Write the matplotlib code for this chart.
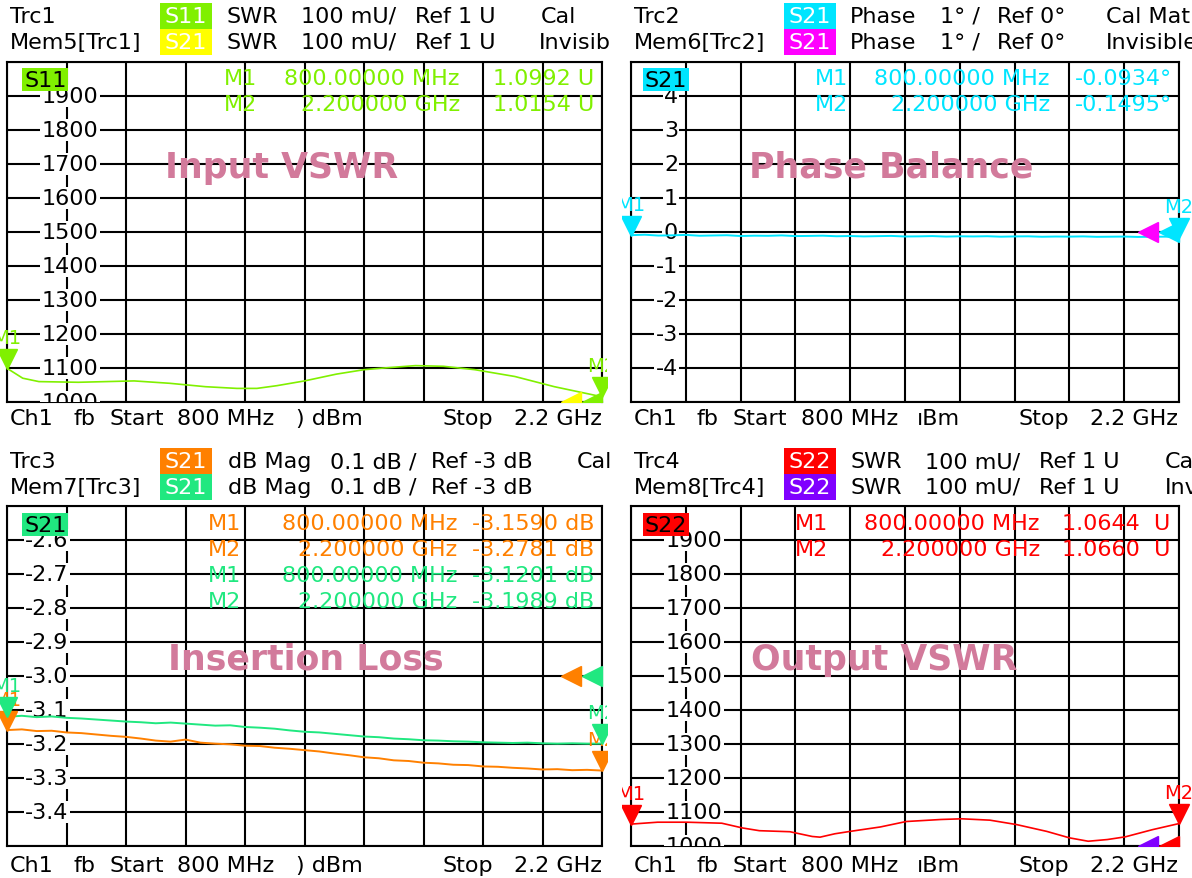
import matplotlib
matplotlib.use("Agg")
import numpy as np
import matplotlib.pyplot as plt
from matplotlib.patches import Rectangle
from matplotlib.transforms import ScaledTranslation, blended_transform_factory

W, H = 1192, 879
FS = 16
plt.rcParams["font.family"] = ["DejaVu Sans"]

START, STOP = 800, 2200  # MHz

# sweep points for the noisy traces
SWEEP_MHZ = list(range(800, 2201, 35))

# Trc1: S11 SWR (U)
S11_MHZ = [800, 837, 875, 968, 1099, 1183, 1267, 1341, 1388, 1435, 1500, 1575,
           1640, 1687, 1761, 1827, 1901, 1995, 2088, 2200]
S11_SWR = [1.0992, 1.070, 1.060, 1.058, 1.062, 1.055, 1.045, 1.040, 1.040, 1.048,
           1.062, 1.082, 1.095, 1.100, 1.107, 1.105, 1.095, 1.075, 1.045, 1.0154]

# Trc2: S21 phase (deg)
S21_PHASE = [-0.0934, -0.080, -0.105, -0.098, -0.085, -0.110, -0.102, -0.095, -0.118,
             -0.108, -0.112, -0.100, -0.120, -0.115, -0.108, -0.125, -0.118, -0.130,
             -0.122, -0.115, -0.132, -0.128, -0.120, -0.135, -0.126, -0.131, -0.124,
             -0.138, -0.130, -0.127, -0.140, -0.133, -0.136, -0.129, -0.142, -0.138,
             -0.134, -0.145, -0.140, -0.137, -0.1495]

# Trc3: S21 dB mag, and memory trace Mem7
S21_DB = [-3.159, -3.157, -3.162, -3.161, -3.166, -3.168, -3.172, -3.176, -3.179,
          -3.184, -3.190, -3.193, -3.187, -3.196, -3.199, -3.201, -3.205, -3.206,
          -3.211, -3.214, -3.218, -3.222, -3.228, -3.233, -3.239, -3.242, -3.248,
          -3.250, -3.255, -3.257, -3.261, -3.262, -3.266, -3.267, -3.270, -3.272,
          -3.275, -3.274, -3.277, -3.276, -3.2781]
MEM_DB = [-3.1201, -3.117, -3.121, -3.119, -3.123, -3.125, -3.128, -3.131, -3.134,
          -3.136, -3.139, -3.137, -3.140, -3.143, -3.146, -3.145, -3.150, -3.152,
          -3.155, -3.160, -3.164, -3.166, -3.170, -3.174, -3.178, -3.180, -3.184,
          -3.186, -3.189, -3.190, -3.192, -3.193, -3.195, -3.196, -3.197, -3.196,
          -3.198, -3.199, -3.198, -3.199, -3.1989]

# Trc4: S22 SWR (U)
S22_MHZ = [800, 868, 943, 1032, 1085, 1128, 1206, 1263, 1283, 1321, 1360, 1437, 1503,
           1592, 1645, 1717, 1785, 1862, 1920, 1968, 2017, 2063, 2132, 2200]
S22_SWR = [1.0644, 1.070, 1.070, 1.067, 1.053, 1.045, 1.042, 1.028, 1.026, 1.036,
           1.043, 1.056, 1.072, 1.078, 1.080, 1.076, 1.063, 1.043, 1.024, 1.014,
           1.019, 1.027, 1.048, 1.0660]

C_S11, C_MEM5 = "#80f000", "#ffff00"
C_PH, C_MEM6 = "#00e5ff", "#ff00ff"
C_S21, C_MEM7 = "#ff8000", "#20e880"
C_S22, C_MEM8 = "#ff0000", "#8000ff"
C_TITLE = "#d27a9b"

fig = plt.figure(figsize=(W / 100, H / 100), dpi=100)


def ftext(x, y, s, **kw):
    kw.setdefault("fontsize", FS)
    kw.setdefault("va", "center")
    return fig.text(x / W, 1 - y / H, s, **kw)


def fbox(x0, y0, x1, y1, color, zorder=1):
    fig.add_artist(Rectangle((x0 / W, 1 - y1 / H), (x1 - x0) / W, (y1 - y0) / H,
                             transform=fig.transFigure, facecolor=color,
                             edgecolor="none", zorder=zorder))


def panel(box, ylo, yhi, labels, label_x, ha):
    x0, y0, x1, y1 = box
    ax = fig.add_axes([x0 / W, 1 - y1 / H, (x1 - x0) / W, (y1 - y0) / H])
    ax.set_xlim(START, STOP)
    ax.set_ylim(ylo, yhi)
    ax.set_xticks(np.linspace(START, STOP, 11))
    ax.set_yticks(np.linspace(ylo, yhi, 11))
    ax.tick_params(length=0, labelbottom=False, labelleft=False)
    ax.grid(True, color="black", lw=1.5)
    for sp in ax.spines.values():
        sp.set_linewidth(1.5)
    tr = blended_transform_factory(ax.transAxes, ax.transData)
    for v, s in labels:
        t = ax.text(label_x, v, s, transform=tr, ha=ha, va="center", fontsize=FS,
                    zorder=3, bbox=dict(facecolor="white", edgecolor="none", pad=1.0))
        t.set_clip_on(True)
    return ax


def clip_rect(box, left, right):
    x0, y0, x1, y1 = box
    return Rectangle(((x0 - left) / W, 1 - y1 / H), (x1 - x0 + left + right) / W,
                     (y1 - y0) / H, transform=fig.transFigure)


def shift(ax, dx, dy):
    return ax.transData + ScaledTranslation(dx / 100, dy / 100, fig.dpi_scale_trans)


def marker(ax, f, v, name, color, clip, label_dy=31):
    ln, = ax.plot([f], [v], marker="v", ms=14, color=color, lw=0,
                  transform=shift(ax, 0, 9.5), zorder=5)
    ln.set_clip_path(clip)
    t = ax.text(f, v, name, color=color, fontsize=14, ha="center", va="center",
                transform=shift(ax, 0, label_dy), zorder=5)
    t.set_clip_path(clip)
    t.set_clip_on(True)


def ref_arrow(ax, v, color, dx, clip):
    ln, = ax.plot([STOP], [v], marker="<", ms=15, color=color, lw=0,
                  transform=shift(ax, dx, 0), zorder=4)
    ln.set_clip_path(clip)


def tag(x0, y0, s, color):
    fbox(x0, y0, x0 + 46, y0 + 23, color, zorder=6)
    ftext(x0 + 2, y0 + 12, s, color="black", zorder=7)


def header(x, y, rows):
    # rows: (trace name, parameter, colour, text chunks)
    for i, (name, param, color, chunks) in enumerate(rows):
        yy = y + 26 * i
        ftext(x, yy, name)
        fbox(x + 150, yy - 13, x + 202, yy + 13, color)
        ftext(x + 154, yy, param, color="white")
        for dx, s in chunks:
            ftext(x + dx, yy, s)


def footer(x, y, right, dbm):
    ftext(x, y, "Ch1")
    ftext(x + 63, y, "fb")
    ftext(x + 99, y, "Start")
    ftext(x + 167, y, "800 MHz")
    ftext(x + dbm[0], y, dbm[1])
    ftext(right - 160, y, "Stop")
    ftext(right, y, "2.2 GHz", ha="right")


P1 = (7, 63, 602, 403)
P2 = (631, 63, 1179, 403)
P3 = (7, 507, 602, 847)
P4 = (631, 507, 1179, 847)

swr_labels = [(1.0 + 0.1 * k, f"{1000 + 100 * k}") for k in range(10)]

# ---- Trc1: input VSWR
ax1 = panel(P1, 1.0, 2.0, swr_labels, 63 / 595, "center")
ax1.plot(S11_MHZ, S11_SWR, color=C_S11, lw=1.2, zorder=4)
clip1 = clip_rect(P1, 10, 5)
ref_arrow(ax1, 1.0, C_MEM5, -31, clip1)
ref_arrow(ax1, 1.0, C_S11, -10, clip1)
marker(ax1, START, S11_SWR[0], "M1", C_S11, clip1)
marker(ax1, STOP, S11_SWR[-1], "M2", C_S11, clip1)

# ---- Trc2: phase balance
ph_labels = [(float(v), f"{v}") for v in range(4, -5, -1)]
ax2 = panel(P2, -5, 5, ph_labels, 47 / 548, "right")
ax2.plot(SWEEP_MHZ, S21_PHASE, color=C_PH, lw=1.4, zorder=4)
clip2 = clip_rect(P2, 9, 13)
ref_arrow(ax2, 0, C_MEM6, -31, clip2)
ref_arrow(ax2, 0, C_PH, -10, clip2)
marker(ax2, START, S21_PHASE[0], "M1", C_PH, clip2)
marker(ax2, STOP, S21_PHASE[-1], "M2", C_PH, clip2)

# ---- Trc3: insertion loss
db_labels = [(-2.6 - 0.1 * k, f"{-2.6 - 0.1 * k:.1f}") for k in range(9)]
ax3 = panel(P3, -3.5, -2.5, db_labels, 40 / 595, "center")
ax3.plot(SWEEP_MHZ, MEM_DB, color=C_MEM7, lw=1.4, zorder=4)
ax3.plot(SWEEP_MHZ, S21_DB, color=C_S21, lw=1.4, zorder=4)
clip3 = clip_rect(P3, 10, 5)
ref_arrow(ax3, -3.0, C_S21, -31, clip3)
ref_arrow(ax3, -3.0, C_MEM7, -10, clip3)
marker(ax3, START, S21_DB[0], "M1", C_S21, clip3)
marker(ax3, START, MEM_DB[0], "M1", C_MEM7, clip3)
marker(ax3, STOP, S21_DB[-1], "M2", C_S21, clip3)
marker(ax3, STOP, MEM_DB[-1], "M2", C_MEM7, clip3)

# ---- Trc4: output VSWR
ax4 = panel(P4, 1.0, 2.0, swr_labels, 63 / 548, "center")
ax4.plot(S22_MHZ, S22_SWR, color=C_S22, lw=1.2, zorder=4)
clip4 = clip_rect(P4, 9, 13)
ref_arrow(ax4, 1.0, C_MEM8, -31, clip4)
ref_arrow(ax4, 1.0, C_S22, -10, clip4)
marker(ax4, START, S22_SWR[0], "M1", C_S22, clip4)
marker(ax4, STOP, S22_SWR[-1], "M2", C_S22, clip4)

# ---- headers
swr_chunks = [(216, "SWR"), (291, "100 mU/"), (405, "Ref 1 U")]
header(10, 17, [("Trc1", "S11", C_S11, swr_chunks + [(531, "Cal")]),
                ("Mem5[Trc1]", "S21", C_MEM5, swr_chunks + [(529, "Invisib")])])
ph_chunks = [(216, "Phase"), (306, "1° /"), (363, "Ref 0°")]
header(634, 17, [("Trc2", "S21", C_PH, ph_chunks + [(472, "Cal Mat")]),
                 ("Mem6[Trc2]", "S21", C_MEM6, ph_chunks + [(472, "Invisible")])])
db_chunks = [(218, "dB Mag"), (320, "0.1 dB /"), (421, "Ref -3 dB")]
header(10, 462, [("Trc3", "S21", C_S21, db_chunks + [(567, "Cal")]),
                 ("Mem7[Trc3]", "S21", C_MEM7, db_chunks)])
header(634, 462, [("Trc4", "S22", C_S22, swr_chunks + [(531, "Ca")]),
                  ("Mem8[Trc4]", "S22", C_MEM8, swr_chunks + [(531, "Inv")])])

# ---- trace tags inside the diagrams
tag(22, 69, "S11", C_S11)
tag(643, 69, "S21", C_PH)
tag(22, 514, "S21", C_MEM7)
tag(643, 514, "S22", C_S22)


# ---- marker readouts
def readout(x_m, x_f, x_v, y, color, rows):
    for i, (m, f, v) in enumerate(rows):
        yy = y + 26 * i
        ftext(x_m, yy, m, color=color, zorder=5)
        ftext(x_f, yy, f, color=color, ha="right", zorder=5)
        ftext(x_v, yy, v, color=color, ha="right", zorder=5)


readout(224, 460, 594, 79, C_S11, [("M1", "800.00000 MHz", f"{S11_SWR[0]:.4f} U"),
                                   ("M2", "2.200000 GHz", f"{S11_SWR[-1]:.4f} U")])
readout(815, 1050, 1172, 79, C_PH, [("M1", "800.00000 MHz", f"{S21_PHASE[0]:.4f}°"),
                                    ("M2", "2.200000 GHz", f"{S21_PHASE[-1]:.4f}°")])
readout(208, 457, 594, 524, C_S21, [("M1", "800.00000 MHz", f"{S21_DB[0]:.4f} dB"),
                                    ("M2", "2.200000 GHz", f"{S21_DB[-1]:.4f} dB")])
readout(208, 457, 594, 576, C_MEM7, [("M1", "800.00000 MHz", f"{MEM_DB[0]:.4f} dB"),
                                     ("M2", "2.200000 GHz", f"{MEM_DB[-1]:.4f} dB")])
readout(795, 1040, 1170, 524, C_S22, [("M1", "800.00000 MHz", f"{S22_SWR[0]:.4f}  U"),
                                      ("M2", "2.200000 GHz", f"{S22_SWR[-1]:.4f}  U")])

# ---- big annotations
title_kw = dict(fontsize=25, fontweight="bold", color=C_TITLE, ha="center", zorder=5)
ftext(282, 168, "Input VSWR", **title_kw)
ftext(891, 167, "Phase Balance", **title_kw)
ftext(306, 660, "Insertion Loss", **title_kw)
ftext(884, 660, "Output VSWR", **title_kw)

# ---- footers
footer(10, 419, 602, (286, ") dBm"))
footer(634, 419, 1178, (283, "ıBm"))
footer(10, 866, 602, (286, ") dBm"))
footer(634, 866, 1178, (283, "ıBm"))

fig.savefig("out.png", dpi=100)
